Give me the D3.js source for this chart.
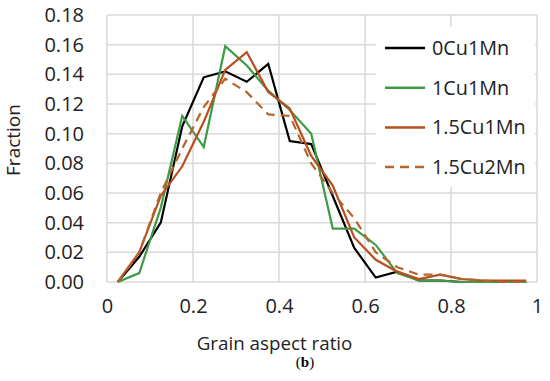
<!DOCTYPE html>
<html><head><meta charset="utf-8">
<script src="https://cdn.jsdelivr.net/npm/d3@7"></script>
<style>body{margin:0;background:#fff}svg{display:block}</style>
</head><body>
<svg id="c" width="550" height="381"></svg>
<script>
const binCenters = [0.025,0.075,0.125,0.175,0.225,0.275,0.325,0.375,0.425,0.475,0.525,0.575,0.625,0.675,0.725,0.775,0.825,0.875,0.925,0.975];
const s0Cu1Mn   = [0.000,0.017,0.040,0.105,0.138,0.142,0.135,0.147,0.095,0.093,0.058,0.023,0.003,0.007,0.001,0.001,0.000,0.000,0.000,0.000];
const s1Cu1Mn   = [0.000,0.006,0.050,0.112,0.091,0.159,0.146,0.129,0.116,0.100,0.036,0.036,0.025,0.006,0.001,0.001,0.000,0.000,0.000,0.000];
const s15Cu1Mn  = [0.000,0.020,0.058,0.078,0.108,0.143,0.155,0.128,0.117,0.085,0.065,0.030,0.015,0.007,0.002,0.005,0.002,0.001,0.001,0.001];
const s15Cu2Mn  = [0.000,0.020,0.060,0.090,0.118,0.137,0.128,0.113,0.112,0.080,0.060,0.043,0.020,0.010,0.005,0.005,0.002,0.001,0.000,0.000];
const seriesNames = ["0Cu1Mn","1Cu1Mn","1.5Cu1Mn","1.5Cu2Mn"];
const xTicks = [0,0.2,0.4,0.6,0.8,1];
const yTicks = [0,0.02,0.04,0.06,0.08,0.10,0.12,0.14,0.16,0.18];

const seriesData = [s0Cu1Mn, s1Cu1Mn, s15Cu1Mn, s15Cu2Mn];
const colors = ["#000000","#3E9B45","#B84E1E","#B5652C"];
const dashes = [null,null,null,"9,6"];

const svg = d3.select("#c");
const x = d3.scaleLinear().domain([0,1]).range([107,537]);
const y = d3.scaleLinear().domain([0,0.18]).range([282,15]);
const font = "'Open Sans', sans-serif";

// gridlines
svg.append("g").selectAll("line.h").data(yTicks).join("line")
  .attr("x1",x(0)).attr("x2",x(1)).attr("y1",d=>y(d)).attr("y2",d=>y(d))
  .attr("stroke","#d9d9d9").attr("stroke-width",1.5);
svg.append("g").selectAll("line.v").data(xTicks).join("line")
  .attr("x1",d=>x(d)).attr("x2",d=>x(d)).attr("y1",y(0)).attr("y2",y(0.18))
  .attr("stroke","#d9d9d9").attr("stroke-width",1.5);

// axes (labels only)
const yAxis = d3.axisLeft(y).tickValues(yTicks).tickFormat(d3.format(".2f")).tickSize(0).tickPadding(23);
const gy = svg.append("g").attr("transform",`translate(${x(0)},0)`).call(yAxis);
const xAxis = d3.axisBottom(x).tickValues(xTicks).tickFormat(d=>d===0?"0":(d===1?"1":d3.format(".1f")(d))).tickSize(0).tickPadding(17);
const gx = svg.append("g").attr("transform",`translate(0,${y(0)})`).call(xAxis);
[gx,gy].forEach(g=>{
  g.select(".domain").remove();
  g.selectAll("text").attr("font-family",font).attr("font-size",20).attr("fill","#222");
});

// lines
const line = d3.line().x((d,i)=>x(binCenters[i])).y(d=>y(d));
seriesData.forEach((s,k)=>{
  svg.append("path").datum(s).attr("d",line).attr("fill","none")
    .attr("stroke",colors[k]).attr("stroke-width",2.2)
    .attr("stroke-dasharray",dashes[k]).attr("stroke-linejoin","miter");
});

// legend
const lg = svg.append("g");
lg.append("rect").attr("x",376).attr("y",27).attr("width",159).attr("height",160).attr("fill","#fff");
seriesNames.forEach((n,k)=>{
  const yy = 48 + k*39.7;
  lg.append("line").attr("x1",385).attr("x2",425).attr("y1",yy).attr("y2",yy)
    .attr("stroke",colors[k]).attr("stroke-width",2.5).attr("stroke-dasharray",dashes[k]);
  lg.append("text").attr("x",432).attr("y",yy).attr("dy","0.35em")
    .attr("font-family",font).attr("font-size",19.8).attr("fill","#222").text(n);
});

// axis titles
svg.append("text").attr("x",274.5).attr("y",343).attr("dy","0.35em").attr("text-anchor","middle")
  .attr("font-family",font).attr("font-size",18.8).attr("fill","#222").text("Grain aspect ratio");
svg.append("text").attr("transform","translate(13,140) rotate(-90)").attr("dy","0.35em").attr("text-anchor","middle")
  .attr("font-family",font).attr("font-size",19).attr("fill","#222").text("Fraction");
svg.append("text").attr("x",305).attr("y",362).attr("dy","0.35em").attr("text-anchor","middle")
  .attr("font-family","'Liberation Serif', serif").attr("font-size",15).attr("fill","#000")
  .html("(<tspan font-weight='bold'>b</tspan>)");
</script>
</body></html>
